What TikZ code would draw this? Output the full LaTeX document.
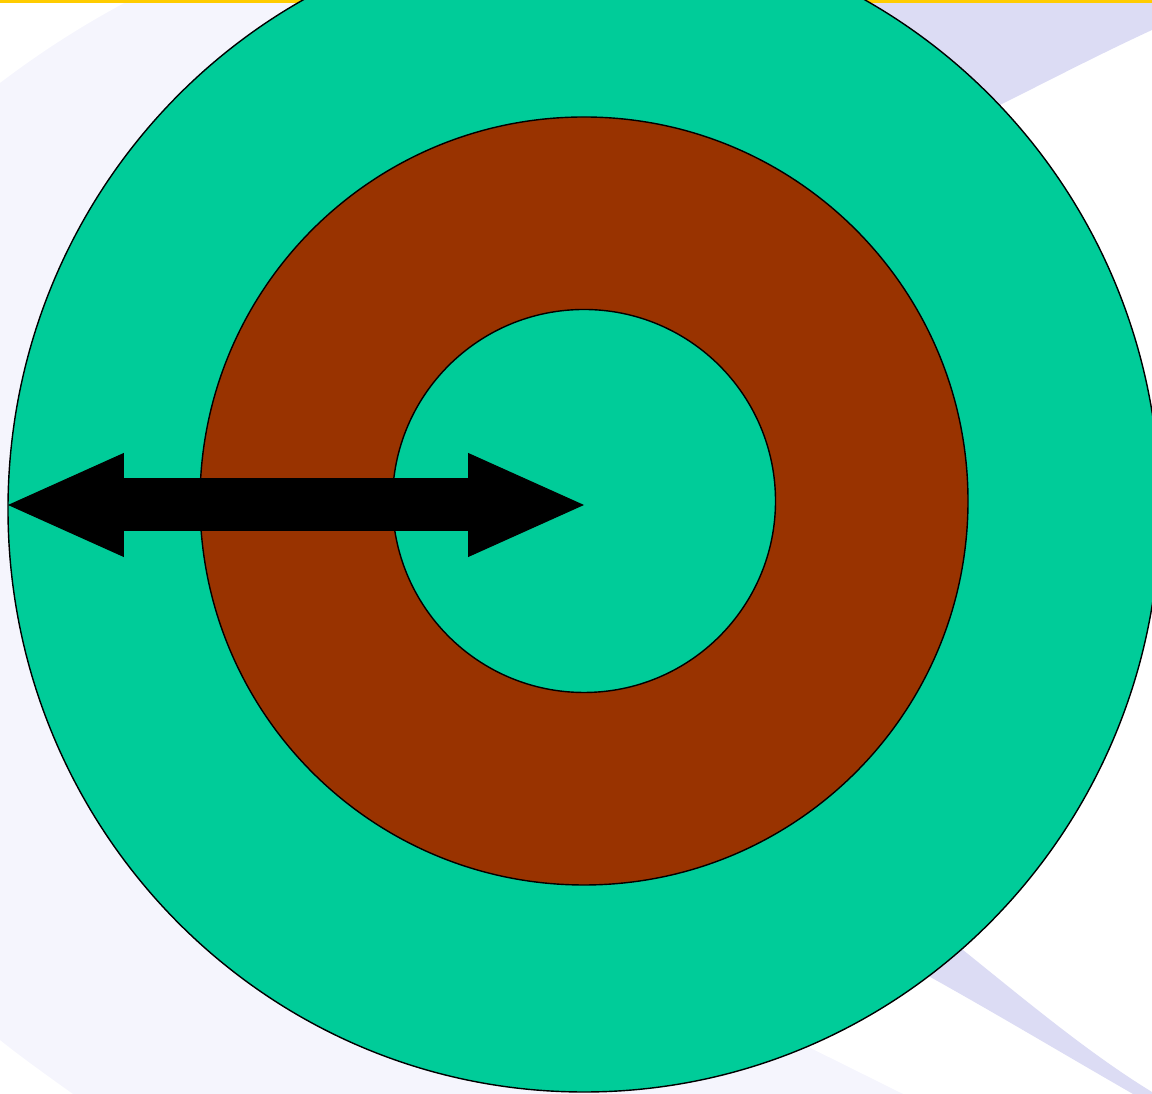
\documentclass[tikz,border=0pt]{standalone}
\usepackage{tikz}
\usetikzlibrary{arrows.meta}
\definecolor{teal}{HTML}{00CC99}
\definecolor{rust}{HTML}{993300}
\definecolor{haze}{HTML}{F5F5FD}
\definecolor{lilac}{HTML}{DCDCF4}
\definecolor{gold}{HTML}{FFCC00}
\tikzset{
  disc/.style={draw=black, line width=0.8pt},
  span/.style={line width=1.06cm,
    {Triangle[length=2.32cm,width=2.08cm,line width=0.6pt]}-{Triangle[length=2.32cm,width=2.08cm,line width=0.6pt]}}
}

\begin{document}
\begin{tikzpicture}[x=0.02cm, y=0.02cm]
  \useasboundingbox (0,0) rectangle (1152,1094);
  % background swooshes
  \fill[haze] (0,1011) .. controls (45,1045) and (85,1070) .. (130,1094) -- (584,1094)
    -- (584,194) -- (760,71) -- (903,0) -- (73,0)
    .. controls (45,20) and (20,38) .. (0,54) -- cycle;
  \fill[lilac] (1152,1094) -- (1152,1064) .. controls (1100,1040) and (1050,1014) .. (1000,989)
    -- (900,940) -- (800,1094) -- cycle;
  \fill[lilac] (920,177) -- (963,144) .. controls (1030,90) and (1090,40) .. (1152,2)
    -- (1152,0) -- (1133,0) .. controls (1060,42) and (1000,78) .. (932,116) -- (900,134) -- cycle;
  \fill[gold] (0,1091) rectangle (1152,1094);
  \coordinate (hub) at (584,593);
  \coordinate (tip) at (584,589);
  \coordinate (rim) at (8,589);
  \draw[disc, fill=teal] (584,585) ellipse[x radius=576, y radius=583];
  \draw[disc, fill=rust] (hub) circle[radius=384];
  \draw[disc, fill=teal] (hub) circle[radius=191.5];
  \draw[span] (rim) -- (tip);
\end{tikzpicture}
\end{document}
